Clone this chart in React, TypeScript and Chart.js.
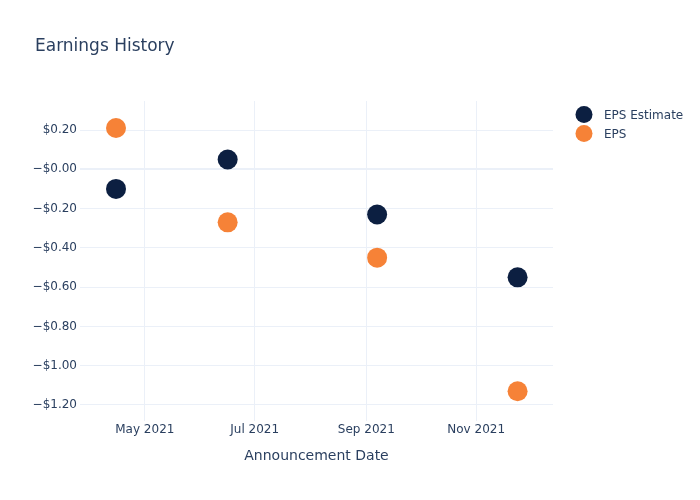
import React, { useEffect, useRef } from "react";
import { Chart, registerables } from "chart.js";

Chart.register(...registerables);

const chartTitle = "Earnings History";
const xAxisTitle = "Announcement Date";
const announcementDates = ["2021-04-15", "2021-06-16", "2021-09-07", "2021-11-24"];
const epsEstimate = [-0.1, 0.05, -0.23, -0.55];
const epsActual = [0.21, -0.27, -0.45, -1.13];
const seriesNames = ["EPS Estimate", "EPS"];
const seriesColors = ["#0c1f41", "#f68237"];
const xTickDates = ["2021-05-01", "2021-07-01", "2021-09-01", "2021-11-01"];
const xTickLabels = ["May 2021", "Jul 2021", "Sep 2021", "Nov 2021"];
const yTickValues = [0.2, 0, -0.2, -0.4, -0.6, -0.8, -1.0, -1.2];
const xRange = ["2021-03-26", "2021-12-13T16:00:00"];
const yRange = [-1.2815, 0.3477];

const TEXT = "#2a3f5f";
const GRID = "#EBF0F8";
const FONT = "'DejaVu Sans', sans-serif";

const ts = (s: string) => new Date(s + (s.length === 10 ? "T00:00:00Z" : "Z")).getTime();

const fmtMoney = (v: number) =>
  v > 0.0001 ? "$" + v.toFixed(2) : "\u2212$" + Math.abs(v).toFixed(2);

const overlayPlugin = {
  id: "overlay",
  afterDraw(chart: any) {
    const ctx = chart.ctx;
    ctx.save();
    ctx.fillStyle = TEXT;
    ctx.font = `17px ${FONT}`;
    ctx.textAlign = "left";
    ctx.textBaseline = "alphabetic";
    ctx.fillText(chartTitle, 35, 51);
    ctx.font = `12px ${FONT}`;
    seriesNames.forEach((name, i) => {
      const y = 114.5 + i * 19;
      ctx.beginPath();
      ctx.arc(584, y, 8.5, 0, Math.PI * 2);
      ctx.fillStyle = seriesColors[i];
      ctx.fill();
      ctx.fillStyle = TEXT;
      ctx.fillText(name, 604, y + 4.4);
    });
    ctx.restore();
  },
};

export default function App() {
  const ref = useRef<HTMLCanvasElement | null>(null);
  useEffect(() => {
    if (!ref.current) return;
    const xs = announcementDates.map(ts);
    const chart = new Chart(ref.current, {
      type: "scatter",
      data: {
        datasets: [
          {
            label: seriesNames[0],
            data: xs.map((x, i) => ({ x, y: epsEstimate[i] })),
            backgroundColor: seriesColors[0],
            borderColor: seriesColors[0],
            borderWidth: 0,
            pointRadius: 10,
          },
          {
            label: seriesNames[1],
            data: xs.map((x, i) => ({ x, y: epsActual[i] })),
            backgroundColor: seriesColors[1],
            borderColor: seriesColors[1],
            borderWidth: 0,
            pointRadius: 10,
          },
        ],
      },
      options: {
        animation: false,
        responsive: false,
        devicePixelRatio: 1,
        layout: { padding: { top: 101, right: 147, bottom: 0, left: 0 } },
        plugins: {
          legend: { display: false },
          title: { display: false },
          tooltip: { enabled: false },
        },
        scales: {
          x: {
            type: "linear",
            min: ts(xRange[0]),
            max: ts(xRange[1]),
            border: { display: false },
            grid: { color: GRID, lineWidth: 1, drawTicks: false },
            afterBuildTicks: (scale: any) => {
              scale.ticks = xTickDates.map((d) => ({ value: ts(d) }));
            },
            afterFit: (scale: any) => {
              scale.height = 79;
            },
            ticks: {
              color: TEXT,
              font: { family: FONT, size: 12 },
              padding: 2,
              maxRotation: 0,
              autoSkip: false,
              callback: (v: any) => {
                const idx = xTickDates.findIndex((d) => ts(d) === v);
                return idx >= 0 ? xTickLabels[idx] : "";
              },
            },
            title: {
              display: true,
              text: xAxisTitle,
              color: TEXT,
              font: { family: FONT, size: 14 },
              padding: { top: 0, bottom: 35 },
            },
          },
          y: {
            type: "linear",
            min: yRange[0],
            max: yRange[1],
            border: { display: false },
            grid: {
              color: GRID,
              drawTicks: false,
              lineWidth: (c: any) => (c.tick && Math.abs(c.tick.value) < 1e-9 ? 2 : 1),
            },
            afterBuildTicks: (scale: any) => {
              scale.ticks = yTickValues.map((v) => ({ value: v }));
            },
            afterFit: (scale: any) => {
              scale.width = 80;
            },
            ticks: {
              color: TEXT,
              font: { family: FONT, size: 12 },
              padding: 3,
              autoSkip: false,
              callback: (v: any) => fmtMoney(Number(v)),
            },
          },
        },
      },
      plugins: [overlayPlugin],
    });
    return () => chart.destroy();
  }, []);
  return (
    <div style={{ position: "absolute", left: 0, top: 0, width: 700, height: 500, background: "#fff" }}>
      <canvas ref={ref} width={700} height={500} style={{ display: "block", width: 700, height: 500 }} />
    </div>
  );
}
